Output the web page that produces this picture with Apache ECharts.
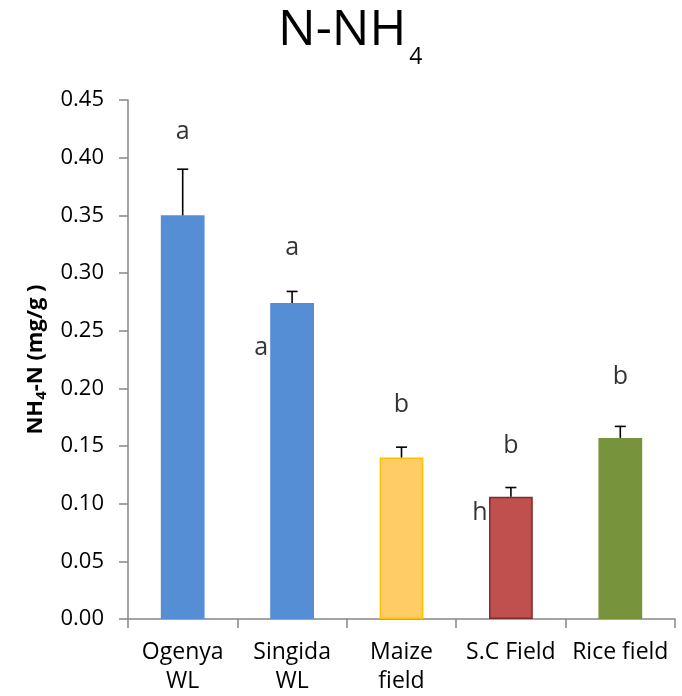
<!DOCTYPE html>
<html>
<head>
<meta charset="utf-8">
<script src="https://cdn.jsdelivr.net/npm/echarts@6/dist/echarts.min.js"></script>
<style>html,body{margin:0;padding:0;background:#fff}#c{width:682px;height:696px}</style>
</head>
<body>
<div id="c"></div>
<script>
var categories = ['Ogenya\nWL', 'Singida\nWL', 'Maize\nfield', 'S.C Field', 'Rice field'];
var values = [0.350, 0.274, 0.140, 0.106, 0.157];
var errors = [0.040, 0.010, 0.009, 0.008, 0.010];
var letters = ['a', 'a', 'b', 'b', 'b'];
var letterY = [0.422, 0.322, 0.186, 0.150, 0.210];
var extraLetters = [{cat: 1, text: 'a', y: 0.235}, {cat: 3, text: 'h', y: 0.092}];

var barColors = ['#558ED5', '#558ED5', '#FFCC66', '#C0504D', '#77933C'];
var barBorders = ['#558ED5', '#558ED5', '#FFC000', '#7A2E2C', '#77933C'];

var font = '"Open Sans", Lato, sans-serif';
var chart = echarts.init(document.getElementById('c'), null, {renderer: 'canvas'});

var option = {
  animation: false,
  title: {
    text: '{m|N-NH}{sub|4}',
    left: 273,
    top: 1,
    textStyle: {
      fontFamily: font, fontSize: 50, fontWeight: 'normal', color: '#000',
      rich: {
        m: { fontFamily: font, fontSize: 50, color: '#000', lineHeight: 60, verticalAlign: 'top' },
        sub: { fontFamily: font, fontSize: 23, color: '#000', lineHeight: 28, verticalAlign: 'top', padding: [40, 0, 0, 3] }
      }
    }
  },
  grid: { left: 128, right: 7, top: 100, bottom: 76 },
  xAxis: {
    type: 'category',
    data: categories,
    axisLine: { lineStyle: { color: '#868686', width: 1.5 } },
    axisTick: { show: true, length: 9, lineStyle: { color: '#868686', width: 1.5 } },
    axisLabel: { fontFamily: font, fontSize: 23, color: '#000', margin: 19, lineHeight: 29, interval: 0 }
  },
  yAxis: {
    type: 'value',
    min: 0, max: 0.45, interval: 0.05,
    splitLine: { show: false },
    axisLine: { show: true, lineStyle: { color: '#868686', width: 1.5 } },
    axisTick: { show: true, length: 9, lineStyle: { color: '#868686', width: 1.5 } },
    axisLabel: { fontFamily: font, fontSize: 22, color: '#000', margin: 24, formatter: function (v) { return v.toFixed(2); } },
    name: 'NH{sub|4}-N (mg/g )',
    nameLocation: 'middle',
    nameRotate: 90,
    nameGap: 73,
    nameTextStyle: {
      fontFamily: font, fontSize: 22, fontWeight: 'bold', color: '#000',
      rich: { sub: { fontFamily: font, fontSize: 15, fontWeight: 'bold', color: '#000', verticalAlign: 'bottom', padding: [13, 0, 0, 0] } }
    }
  },
  series: [
    {
      type: 'bar',
      barWidth: '40%',
      data: values.map(function (v, i) {
        return { value: v, itemStyle: { color: barColors[i], borderColor: barBorders[i], borderWidth: 1.5 } };
      }),
      z: 2
    },
    {
      type: 'custom',
      z: 3,
      renderItem: function (params, api) {
        var x = api.value(0), v = api.value(1), e = api.value(2);
        var p0 = api.coord([x, v]);
        var p1 = api.coord([x, v + e]);
        var w = 5.5;
        return {
          type: 'group',
          children: [
            { type: 'line', shape: { x1: p0[0], y1: p0[1], x2: p1[0], y2: p1[1] }, style: { stroke: '#000', lineWidth: 1.6 } },
            { type: 'line', shape: { x1: p1[0] - w, y1: p1[1], x2: p1[0] + w, y2: p1[1] }, style: { stroke: '#000', lineWidth: 1.6 } }
          ]
        };
      },
      data: values.map(function (v, i) { return [i, v, errors[i]]; })
    },
    {
      type: 'scatter',
      symbolSize: 0,
      z: 4,
      data: letters.map(function (t, i) { return { value: [i, letterY[i]], name: t }; }),
      label: { show: true, position: 'inside', formatter: '{b}', fontFamily: font, fontSize: 25, color: '#000' }
    },
    {
      type: 'scatter',
      symbolSize: 0,
      z: 4,
      data: extraLetters.map(function (d) { return { value: [d.cat, d.y], name: d.text }; }),
      label: { show: true, position: 'inside', offset: [-31, 0], formatter: '{b}', fontFamily: font, fontSize: 25, color: '#000' }
    }
  ]
};
chart.setOption(option);
</script>
</body>
</html>
